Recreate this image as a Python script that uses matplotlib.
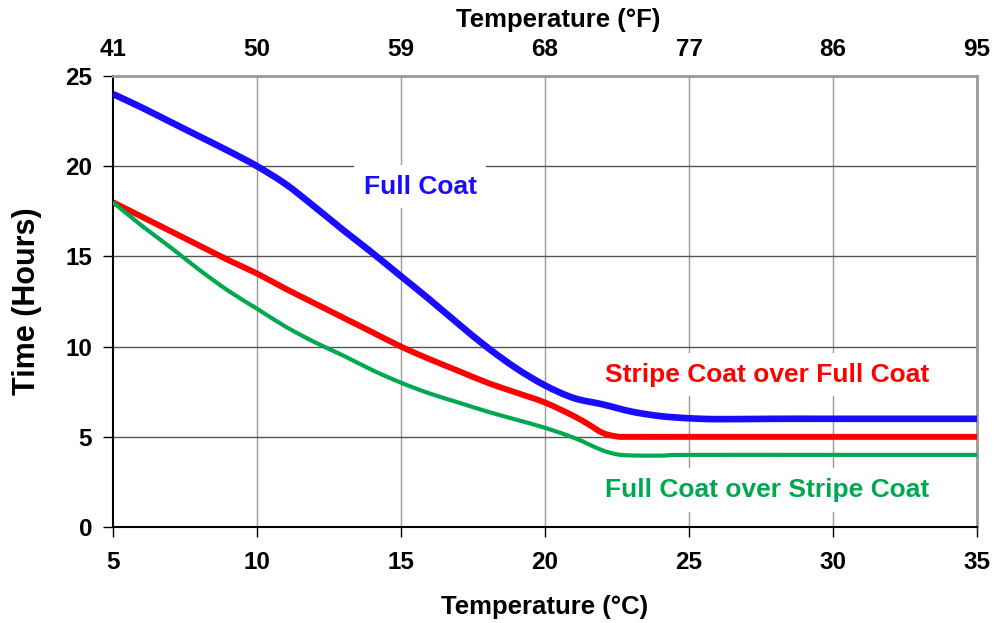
import matplotlib
matplotlib.use("Agg")
import matplotlib.pyplot as plt
from matplotlib.path import Path
from matplotlib.patches import PathPatch

plt.rcParams['font.family'] = ['Liberation Sans', 'DejaVu Sans']
plt.rcParams['font.weight'] = 'bold'

# Data (Temperature in °C, Time in hours)
full_t = [5, 6, 7, 8, 9, 10, 11, 12, 13, 14, 15, 16, 17, 18, 19, 20, 21, 22, 23, 24, 25, 26, 28, 30, 35]
full_h = [24, 23.25, 22.45, 21.65, 20.85, 20, 19.0, 17.75, 16.45, 15.2, 13.9, 12.6, 11.25, 9.95, 8.8, 7.85, 7.15, 6.8, 6.4, 6.15, 6.03, 5.98, 6.0, 6.0, 6.0]

stripe_t = [5, 6, 7, 8, 9, 10, 11, 12, 13, 14, 15, 16, 17, 18, 19, 20, 21, 21.5, 22, 22.5, 23, 25, 30, 35]
stripe_h = [18, 17.2, 16.4, 15.6, 14.8, 14.05, 13.2, 12.4, 11.6, 10.8, 10.0, 9.3, 8.65, 8.0, 7.45, 6.9, 6.15, 5.7, 5.22, 5.02, 5.0, 5.0, 5.0, 5.0]

fos_t = [5, 6, 7, 8, 9, 10, 11, 12, 13, 14, 15, 16, 17, 18, 19, 20, 21, 21.5, 22, 22.5, 23, 24, 25, 30, 35]
fos_h = [18, 16.7, 15.5, 14.25, 13.1, 12.1, 11.1, 10.25, 9.5, 8.7, 8.0, 7.4, 6.9, 6.4, 5.95, 5.5, 4.95, 4.6, 4.25, 4.03, 3.97, 3.96, 4.0, 4.0, 4.0]

c_ticks = [5, 10, 15, 20, 25, 30, 35]
f_ticks = [41, 50, 59, 68, 77, 86, 95]
y_ticks = [0, 5, 10, 15, 20, 25]

BLUE = '#1a0dff'
RED = '#ff0000'
GREEN = '#00a84f'


def smooth_path(xs, ys):
    """Catmull-Rom style cubic Bezier through the data points (like a smoothed line)."""
    pts = list(zip(xs, ys))
    n = len(pts)
    verts = [pts[0]]
    codes = [Path.MOVETO]
    for i in range(n - 1):
        p0 = pts[i - 1] if i > 0 else pts[i]
        p1 = pts[i]
        p2 = pts[i + 1]
        p3 = pts[i + 2] if i + 2 < n else pts[i + 1]
        c1 = (p1[0] + (p2[0] - p0[0]) / 6.0, p1[1] + (p2[1] - p0[1]) / 6.0)
        c2 = (p2[0] - (p3[0] - p1[0]) / 6.0, p2[1] - (p3[1] - p1[1]) / 6.0)
        verts += [c1, c2, p2]
        codes += [Path.CURVE4, Path.CURVE4, Path.CURVE4]
    return Path(verts, codes)


fig = plt.figure(figsize=(9.95, 6.23), dpi=100)
ax = fig.add_axes([0.1136, 0.154, 0.8684, 0.724])

ax.set_xlim(5, 35)
ax.set_ylim(0, 25)

for x in c_ticks[1:-1]:
    ax.axvline(x, color='#999999', lw=1.0, zorder=1)
for y in y_ticks[1:-1]:
    ax.axhline(y, color='#555555', lw=1.0, zorder=1)

for xs, ys, col, lw in [(full_t, full_h, BLUE, 4.8),
                        (stripe_t, stripe_h, RED, 4.3),
                        (fos_t, fos_h, GREEN, 3.0)]:
    ax.add_patch(PathPatch(smooth_path(xs, ys), facecolor='none', edgecolor=col,
                           lw=lw, zorder=3, capstyle='butt', joinstyle='round'))

ax.set_xticks(c_ticks)
ax.set_yticks(y_ticks)
ax.tick_params(axis='both', direction='out', length=7, width=1, labelsize=17.5)
ax.tick_params(axis='x', pad=10)
ax.tick_params(axis='y', pad=8)
for lab in ax.get_xticklabels() + ax.get_yticklabels():
    lab.set_fontweight('bold')

ax.spines['left'].set_color('black')
ax.spines['bottom'].set_color('black')
ax.spines['left'].set_linewidth(1.5)
ax.spines['bottom'].set_linewidth(1.5)
ax.spines['top'].set_color('#999999')
ax.spines['right'].set_color('#999999')
ax.spines['top'].set_linewidth(2)
ax.spines['right'].set_linewidth(2)

ax.set_xlabel('Temperature (°C)', fontsize=18.5, fontweight='bold', labelpad=15)
ax.set_ylabel('Time (Hours)', fontsize=22, fontweight='bold', labelpad=17)

# Top axis in °F
ax2 = ax.twiny()
ax2.set_xlim(f_ticks[0], f_ticks[-1])
ax2.set_xticks(f_ticks)
ax2.set_xticklabels([str(v) for v in f_ticks], fontsize=17.5, fontweight='bold')
ax2.tick_params(axis='x', length=0, pad=11)
for s in ax2.spines.values():
    s.set_visible(False)
ax2.set_xlabel('Temperature (°F)', fontsize=18.5, fontweight='bold')
ax2.xaxis.label.set_verticalalignment('center')
ax2.xaxis.set_label_coords(0.515, 1.124)

box = dict(facecolor='white', edgecolor='none', pad=7)
ax.text(15.66, 18.87, 'Full Coat', color=BLUE, fontsize=19, fontweight='bold',
        ha='center', va='center', bbox=box, zorder=2)
ax.text(27.7, 8.45, 'Stripe Coat over Full Coat', color=RED, fontsize=19, fontweight='bold',
        ha='center', va='center', bbox=box, zorder=2)
ax.text(27.7, 2.05, 'Full Coat over Stripe Coat', color=GREEN, fontsize=19, fontweight='bold',
        ha='center', va='center', bbox=box, zorder=2)

fig.savefig('out.png', dpi=100)
